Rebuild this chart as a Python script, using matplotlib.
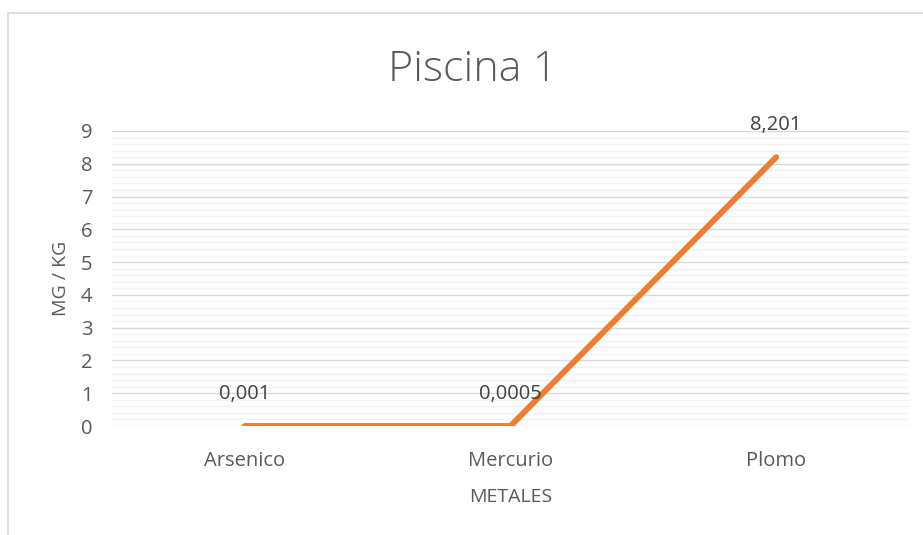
import matplotlib
matplotlib.use("Agg")
import matplotlib.pyplot as plt
from matplotlib.patches import Rectangle
from matplotlib.ticker import MultipleLocator

categories = ["Arsenico", "Mercurio", "Plomo"]
values = [0.001, 0.0005, 8.201]
value_labels = ["0,001", "0,0005", "8,201"]
title = "Piscina 1"
x_label = "METALES"
y_label = "MG / KG"

W, H = 923, 535
plt.rcParams["font.family"] = ["Open Sans", "DejaVu Sans"]
fig = plt.figure(figsize=(W / 100, H / 100), dpi=100)

# chart area frame
fig.patches.append(Rectangle((8 / W, -0.05), 1.1, 1 - 13 / H + 0.05,
                             transform=fig.transFigure, fill=False,
                             edgecolor="#d9d9d9", linewidth=1.2))

left, right, top, bottom = 112, 909, 131, 426
ax = fig.add_axes([left / W, 1 - bottom / H, (right - left) / W, (bottom - top) / H])

x = list(range(len(categories)))
ax.plot(x, values, color="#ED7D31", linewidth=4.2, solid_capstyle="round",
        solid_joinstyle="round", zorder=3)

for xi, v, lab in zip(x, values, value_labels):
    ax.annotate(lab, (xi, v), xytext=(0, 23), textcoords="offset points",
                ha="center", va="center", fontsize=14.5, color="#404040", zorder=4)

ax.set_xlim(-0.5, 2.5)
ax.set_ylim(0, 9)
ax.set_xticks(x)
ax.set_xticklabels(categories)
ax.yaxis.set_major_locator(MultipleLocator(1))
ax.yaxis.set_minor_locator(MultipleLocator(0.2))
ax.grid(axis="y", which="major", color="#d9d9d9", linewidth=1.0)
ax.grid(axis="y", which="minor", color="#f2f2f2", linewidth=1.0)
ax.set_axisbelow(True)
for s in ax.spines.values():
    s.set_visible(False)
ax.tick_params(axis="both", which="both", length=0, labelsize=14.5, colors="#595959")
ax.tick_params(axis="x", pad=18)
ax.tick_params(axis="y", pad=14)

ax.set_xlabel(x_label, fontsize=14, color="#595959", labelpad=12)
ax.set_ylabel(y_label, fontsize=14, color="#595959", labelpad=8)
fig.text(473 / W, 1 - 70 / H, title, ha="center", va="center", fontsize=31,
         color="#595959", fontweight="light")

fig.savefig("out.png", dpi=100)
